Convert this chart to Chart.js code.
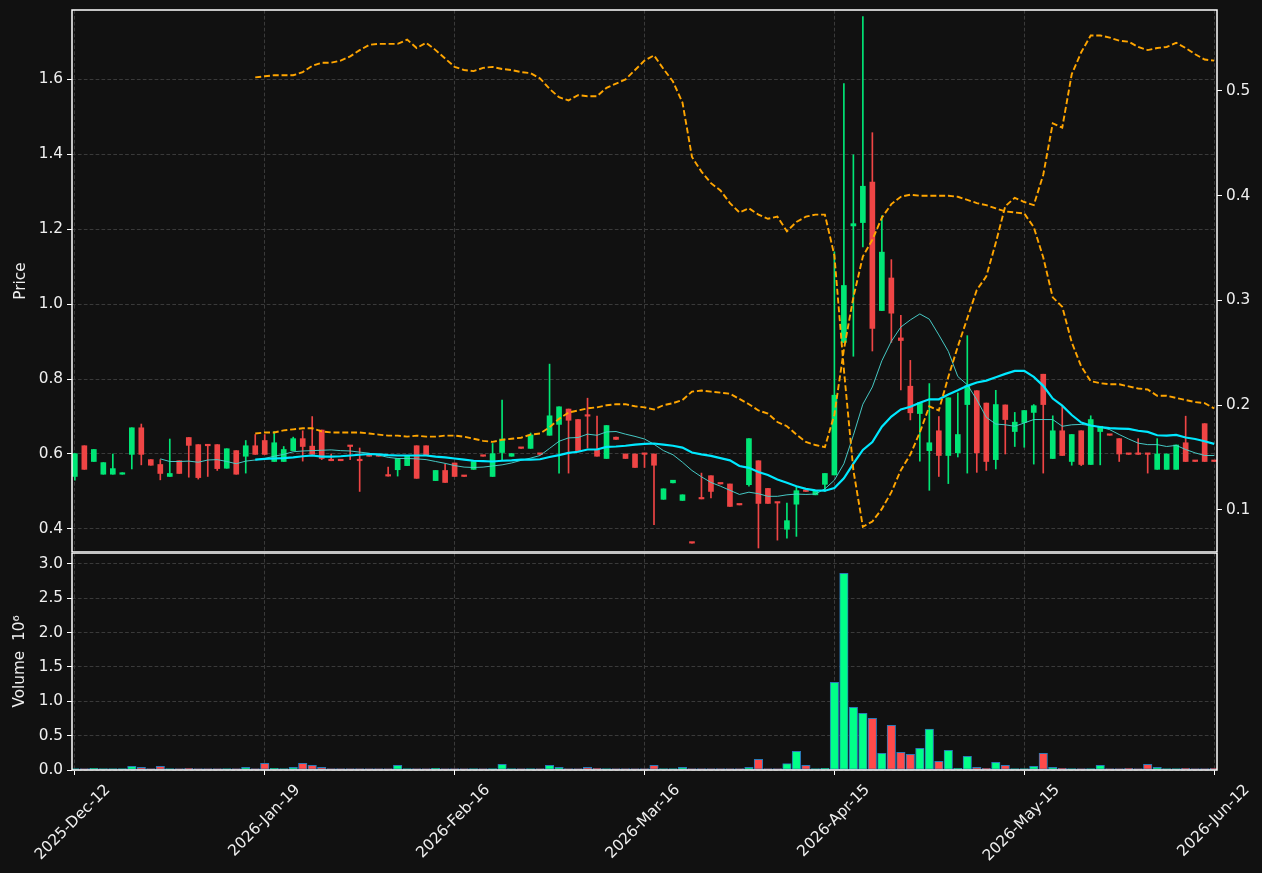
<!DOCTYPE html>
<html><head><meta charset="utf-8">
<script src="https://cdn.jsdelivr.net/npm/chart.js@4"></script>
<style>
html,body{margin:0;padding:0;background:#111111;width:1262px;height:873px;overflow:hidden}
#top{position:absolute;left:0;top:0}
#bot{position:absolute;left:0;top:553px}
</style></head><body>
<canvas id="top" width="1262" height="553"></canvas>
<canvas id="bot" width="1262" height="320"></canvas>
<script>
// ---------------- data ----------------
const tickPositions = [0, 20, 40, 60, 80, 100, 120];
const tickLabels = ['2025-Dec-12','2026-Jan-19','2026-Feb-16','2026-Mar-16','2026-Apr-15','2026-May-15','2026-Jun-12'];
const priceTicks = [0.4, 0.6, 0.8, 1.0, 1.2, 1.4, 1.6];
const rightTicks = [0.1, 0.2, 0.3, 0.4, 0.5];
const volumeTicks = [0, 0.5, 1.0, 1.5, 2.0, 2.5, 3.0];

const opens = [0.540,0.622,0.580,0.546,0.546,0.546,0.599,0.670,0.585,0.572,
 0.540,0.582,0.644,0.625,0.625,0.625,0.562,0.609,0.594,0.622,
 0.636,0.580,0.580,0.609,0.641,0.621,0.664,0.583,0.583,0.622,
 0.583,0.598,0.597,0.542,0.558,0.569,0.622,0.622,0.529,0.556,
 0.576,0.541,0.559,0.595,0.540,0.604,0.594,0.616,0.615,0.600,
 0.650,0.679,0.720,0.692,0.702,0.610,0.588,0.645,0.600,0.600,
 0.600,0.600,0.479,0.523,0.476,0.363,0.481,0.542,0.521,0.520,
 0.465,0.518,0.582,0.508,0.470,0.399,0.466,0.501,0.491,0.519,
 0.544,0.898,1.209,1.218,1.326,0.983,1.070,0.910,0.781,0.708,
 0.609,0.662,0.596,0.603,0.732,0.769,0.736,0.585,0.731,0.660,
 0.684,0.711,0.813,0.588,0.662,0.580,0.662,0.572,0.660,0.651,
 0.641,0.600,0.600,0.600,0.559,0.559,0.559,0.630,0.581,0.681,
 0.581];
const highs = [0.601,0.622,0.612,0.577,0.600,0.550,0.670,0.680,0.585,0.585,
 0.640,0.582,0.644,0.625,0.625,0.625,0.614,0.609,0.636,0.652,
 0.652,0.660,0.620,0.645,0.662,0.700,0.664,0.600,0.583,0.622,
 0.616,0.598,0.597,0.565,0.588,0.596,0.622,0.622,0.556,0.573,
 0.576,0.541,0.580,0.595,0.628,0.744,0.601,0.616,0.656,0.600,
 0.840,0.726,0.720,0.692,0.749,0.701,0.676,0.645,0.600,0.600,
 0.600,0.600,0.507,0.530,0.491,0.363,0.549,0.542,0.521,0.520,
 0.465,0.641,0.582,0.508,0.470,0.469,0.514,0.501,0.502,0.548,
 1.140,1.589,1.399,1.768,1.458,1.236,1.119,0.970,0.850,0.737,
 0.788,0.700,0.750,0.763,0.916,0.769,0.736,0.770,0.731,0.711,
 0.716,0.732,0.813,0.702,0.727,0.652,0.662,0.702,0.674,0.651,
 0.641,0.600,0.641,0.600,0.641,0.600,0.624,0.701,0.581,0.681,
 0.581];
const lows = [0.530,0.559,0.580,0.546,0.546,0.546,0.560,0.571,0.570,0.531,
 0.540,0.548,0.538,0.533,0.540,0.556,0.562,0.546,0.549,0.599,
 0.599,0.580,0.580,0.609,0.581,0.599,0.585,0.582,0.582,0.585,
 0.500,0.594,0.594,0.541,0.541,0.569,0.535,0.598,0.529,0.524,
 0.540,0.540,0.559,0.594,0.540,0.583,0.594,0.615,0.615,0.599,
 0.650,0.549,0.549,0.609,0.616,0.594,0.588,0.639,0.588,0.564,
 0.564,0.411,0.479,0.523,0.476,0.362,0.480,0.483,0.520,0.460,
 0.464,0.514,0.349,0.468,0.370,0.375,0.380,0.500,0.491,0.500,
 0.544,0.898,0.861,1.153,0.875,0.983,0.898,0.771,0.691,0.581,
 0.503,0.540,0.521,0.592,0.549,0.551,0.556,0.560,0.600,0.620,
 0.618,0.573,0.549,0.588,0.596,0.570,0.569,0.572,0.571,0.650,
 0.580,0.599,0.599,0.549,0.559,0.559,0.559,0.580,0.580,0.580,
 0.580];
const closes = [0.601,0.559,0.612,0.577,0.561,0.550,0.670,0.599,0.570,0.548,
 0.548,0.548,0.623,0.537,0.622,0.561,0.614,0.546,0.622,0.599,
 0.599,0.630,0.612,0.641,0.620,0.599,0.588,0.582,0.582,0.620,
 0.582,0.594,0.594,0.541,0.588,0.596,0.535,0.598,0.556,0.524,
 0.540,0.540,0.580,0.594,0.601,0.640,0.601,0.615,0.651,0.599,
 0.702,0.726,0.690,0.609,0.701,0.594,0.676,0.639,0.588,0.564,
 0.599,0.570,0.507,0.530,0.491,0.362,0.480,0.500,0.520,0.460,
 0.464,0.641,0.468,0.468,0.469,0.422,0.502,0.500,0.502,0.548,
 0.757,1.050,1.215,1.315,0.935,1.139,0.976,0.903,0.710,0.737,
 0.630,0.596,0.750,0.652,0.782,0.603,0.580,0.732,0.692,0.685,
 0.716,0.729,0.732,0.662,0.596,0.652,0.572,0.692,0.674,0.650,
 0.600,0.599,0.599,0.599,0.600,0.600,0.624,0.580,0.580,0.580,
 0.580];
// volume in millions
const volumes = [0.010,0.005,0.025,0.010,0.010,0.005,0.053,0.039,0.010,0.053,
 0.005,0.010,0.024,0.010,0.005,0.010,0.005,0.010,0.039,0.005,
 0.097,0.024,0.010,0.039,0.097,0.068,0.039,0.010,0.010,0.010,
 0.010,0.005,0.005,0.005,0.068,0.010,0.005,0.005,0.024,0.010,
 0.010,0.005,0.005,0.005,0.010,0.083,0.010,0.005,0.005,0.005,
 0.068,0.039,0.010,0.010,0.039,0.024,0.005,0.005,0.010,0.010,
 0.005,0.068,0.005,0.005,0.039,0.005,0.010,0.010,0.005,0.010,
 0.005,0.039,0.155,0.005,0.005,0.092,0.272,0.068,0.010,0.024,
 1.277,2.864,0.913,0.825,0.752,0.243,0.650,0.257,0.228,0.316,
 0.597,0.126,0.286,0.024,0.199,0.039,0.024,0.112,0.068,0.010,
 0.010,0.053,0.243,0.039,0.024,0.005,0.010,0.010,0.068,0.005,
 0.005,0.024,0.010,0.083,0.039,0.005,0.010,0.024,0.005,0.005,
 0.024];
// short moving average (thin), starts at index 9
const maShortStart = 9;
const maShort = [0.587,0.580,0.580,0.581,0.578,0.584,0.585,0.580,0.574,0.581,
 0.584,0.588,0.594,0.599,0.606,0.608,0.609,0.610,0.611,0.609,
 0.608,0.605,0.602,0.597,0.591,0.588,0.588,0.587,0.585,0.580,
 0.575,0.569,0.565,0.564,0.565,0.568,0.571,0.576,0.583,0.589,
 0.596,0.615,0.634,0.643,0.644,0.653,0.650,0.659,0.660,0.653,
 0.647,0.640,0.626,0.609,0.598,0.578,0.556,0.539,0.524,0.514,
 0.503,0.492,0.498,0.494,0.487,0.487,0.491,0.493,0.492,0.493,
 0.507,0.530,0.574,0.650,0.733,0.779,0.849,0.901,0.939,0.958,
 0.974,0.960,0.918,0.874,0.807,0.785,0.745,0.698,0.680,0.678,
 0.674,0.683,0.692,0.692,0.692,0.674,0.678,0.679,0.676,0.672,
 0.665,0.652,0.640,0.629,0.625,0.625,0.620,0.623,0.612,0.603,
 0.596,0.596];
// long moving average (thick), starts at index 19
const maLongStart = 19;
const maLong = [0.585,0.587,0.588,0.589,0.591,0.594,0.596,0.593,0.593,0.594,
 0.596,0.598,0.600,0.599,0.597,0.596,0.596,0.596,0.596,0.593,
 0.591,0.588,0.585,0.582,0.581,0.580,0.582,0.583,0.585,0.585,
 0.586,0.592,0.597,0.603,0.606,0.612,0.612,0.619,0.620,0.622,
 0.625,0.627,0.628,0.625,0.622,0.617,0.604,0.599,0.595,0.589,
 0.583,0.568,0.563,0.552,0.544,0.532,0.523,0.514,0.507,0.503,
 0.502,0.509,0.535,0.574,0.611,0.632,0.673,0.700,0.719,0.726,
 0.737,0.746,0.746,0.759,0.770,0.782,0.791,0.796,0.805,0.814,
 0.822,0.822,0.806,0.782,0.748,0.729,0.704,0.684,0.676,0.672,
 0.669,0.668,0.667,0.662,0.659,0.650,0.649,0.651,0.644,0.640,
 0.634,0.627];
// dashed lines on the right axis, start at index 19
const bandStart = 19;
const bandA = [0.513,0.514,0.515,0.515,0.515,0.518,0.524,0.527,0.527,0.529,
 0.533,0.539,0.544,0.545,0.545,0.545,0.549,0.541,0.546,0.539,
 0.531,0.523,0.520,0.519,0.522,0.523,0.521,0.520,0.518,0.517,
 0.512,0.502,0.494,0.491,0.496,0.495,0.495,0.503,0.507,0.511,
 0.520,0.529,0.534,0.521,0.509,0.489,0.437,0.423,0.412,0.405,
 0.393,0.384,0.388,0.382,0.378,0.380,0.366,0.375,0.380,0.382,
 0.382,0.343,0.234,0.138,0.084,0.089,0.101,0.117,0.138,0.153,
 0.174,0.199,0.195,0.227,0.256,0.283,0.310,0.323,0.355,0.390,
 0.398,0.394,0.391,0.420,0.469,0.465,0.516,0.537,0.553,0.553,
 0.551,0.548,0.547,0.542,0.539,0.541,0.542,0.546,0.541,0.535,
 0.530,0.529];
const bandB = [0.173,0.174,0.174,0.176,0.177,0.178,0.178,0.175,0.174,0.174,
 0.174,0.174,0.173,0.172,0.171,0.171,0.170,0.171,0.170,0.170,
 0.171,0.171,0.170,0.168,0.166,0.165,0.167,0.168,0.169,0.172,
 0.173,0.179,0.187,0.193,0.195,0.197,0.198,0.200,0.201,0.201,
 0.199,0.198,0.196,0.200,0.202,0.205,0.213,0.214,0.213,0.212,
 0.211,0.206,0.201,0.195,0.192,0.184,0.180,0.172,0.165,0.162,
 0.160,0.191,0.253,0.303,0.342,0.358,0.379,0.392,0.399,0.401,
 0.400,0.400,0.400,0.400,0.399,0.396,0.393,0.391,0.388,0.385,
 0.384,0.383,0.370,0.341,0.303,0.294,0.260,0.237,0.223,0.221,
 0.220,0.220,0.218,0.216,0.215,0.209,0.209,0.207,0.205,0.203,
 0.202,0.197];

// ---------------- styling ----------------
const BG = '#111111';
const TXT = '#f0f0f0';
const GRID = '#3a3a3a';
const GDASH = [3.7, 2.2];
const UP = '#00e676', DOWN = '#ef4545';
const VUP = '#00ff88', VDOWN = '#ff4a4a', VEDGE = '#2a7ab8';
const FS = 15.3;
Chart.defaults.font.family = 'DejaVu Sans';
Chart.defaults.font.size = FS;
Chart.defaults.color = TXT;

const bgPlugin = {id:'bgp', beforeDraw(c){const x=c.ctx;x.save();x.fillStyle=BG;x.fillRect(0,0,c.width,c.height);x.restore();}};
const framePlugin = {id:'frame', afterDraw(c){const a=c.chartArea,x=c.ctx;x.save();x.strokeStyle='#ffffff';x.lineWidth=1.5;x.strokeRect(a.left,a.top,a.right-a.left,a.bottom-a.top);x.restore();}};

const idx = closes.map((_, i) => i);
const isUp = idx.map(i => closes[i] >= opens[i]);
const xMin = -0.3, xMax = 120.3;
const setTicks = arr => (s => { s.ticks = arr.map(v => ({value: v})); });
const series = (arr, start) => arr.map((v, k) => ({x: k + start, y: v}));
const fixW = w => (s => { s.width = w; s.paddingTop = 0; s.paddingBottom = 0; });
const fixH = h => (s => { s.height = h; s.paddingLeft = 0; s.paddingRight = 0; });

// ---------------- price panel ----------------
new Chart(document.getElementById('top'), {
  type: 'bar',
  data: { datasets: [
    {type:'line', data: series(bandA, bandStart), yAxisID:'y2', borderColor:'#ffa500', borderWidth:1.9, borderDash:[6,2.8], pointRadius:0, tension:0, order:0},
    {type:'line', data: series(bandB, bandStart), yAxisID:'y2', borderColor:'#ffa500', borderWidth:1.9, borderDash:[6,2.8], pointRadius:0, tension:0, order:0},
    {type:'line', data: series(maLong, maLongStart), yAxisID:'y', borderColor:'#00e8ff', borderWidth:2.2, pointRadius:0, tension:0, order:1},
    {type:'line', data: series(maShort, maShortStart), yAxisID:'y', borderColor:'rgba(72,209,204,0.95)', borderWidth:1, pointRadius:0, tension:0, order:2},
    {type:'bar', data: idx.map(i => ({x:i, y:[opens[i], closes[i]]})), yAxisID:'y', backgroundColor: isUp.map(u => u ? UP : DOWN), borderWidth:0, barThickness:5, minBarLength:1.5, grouped:false, order:3},
    {type:'bar', data: idx.map(i => ({x:i, y:[lows[i], highs[i]]})), yAxisID:'y', backgroundColor: isUp.map(u => u ? UP : DOWN), borderWidth:0, barThickness:1, grouped:false, order:4}
  ]},
  options: {
    responsive:false, animation:false, devicePixelRatio:1,
    layout:{padding:{top:10, bottom:0, left:0, right:0}},
    plugins:{legend:{display:false}, tooltip:{enabled:false}},
    scales:{
      x:{type:'linear', min:xMin, max:xMax, offset:false, afterBuildTicks:setTicks(tickPositions),
         ticks:{display:false}, grid:{color:GRID, drawTicks:false, offset:false}, border:{display:false, dash:GDASH},
         afterFit:fixH(1)},
      y:{type:'linear', position:'left', min:0.3383, max:1.7856, beginAtZero:false, afterBuildTicks:setTicks(priceTicks),
         ticks:{callback:v => v.toFixed(1), color:TXT, padding:4},
         grid:{color:GRID, tickColor:'#ffffff', tickLength:5, tickBorderDash:[]}, border:{display:false, dash:GDASH},
         title:{display:true, text:'Price', color:TXT, padding:{top:12, bottom:0}},
         afterFit:fixW(72)},
      y2:{type:'linear', position:'right', min:0.0599, max:0.5773, beginAtZero:false, afterBuildTicks:setTicks(rightTicks),
         ticks:{callback:v => v.toFixed(1), color:TXT, padding:4},
         grid:{drawOnChartArea:false, tickColor:'#ffffff', tickLength:5}, border:{display:false},
         afterFit:fixW(45)}
    }
  },
  plugins:[bgPlugin, framePlugin]
});

// ---------------- volume panel ----------------
new Chart(document.getElementById('bot'), {
  type: 'bar',
  data: { datasets: [
    {data: idx.map(i => ({x:i, y:volumes[i]})), backgroundColor: isUp.map(u => u ? VUP : VDOWN), borderColor: VEDGE, borderWidth:1, borderSkipped:false, barThickness:8.5, minBarLength:1.5}
  ]},
  options: {
    responsive:false, animation:false, devicePixelRatio:1,
    layout:{padding:{top:0, bottom:0, left:0, right:45}},
    plugins:{legend:{display:false}, tooltip:{enabled:false}},
    scales:{
      x:{type:'linear', min:xMin, max:xMax, offset:false, afterBuildTicks:setTicks(tickPositions),
         ticks:{autoSkip:false, maxRotation:45, minRotation:45, color:TXT, padding:6, labelOffset:33,
                callback:v => { const k = tickPositions.indexOf(v); return k >= 0 ? tickLabels[k] : ''; }},
         grid:{color:GRID, offset:false, tickColor:'#ffffff', tickLength:5, tickBorderDash:[]}, border:{display:false, dash:GDASH},
         afterFit:fixH(103)},
      y:{type:'linear', position:'left', min:0, max:3.16, beginAtZero:false, afterBuildTicks:setTicks(volumeTicks),
         ticks:{callback:v => v.toFixed(1), color:TXT, padding:4},
         grid:{color:GRID, tickColor:'#ffffff', tickLength:5, tickBorderDash:[]}, border:{display:false, dash:GDASH},
         title:{display:true, text:'Volume  10⁶', color:TXT, padding:{top:11, bottom:0}},
         afterFit:fixW(72)}
    }
  },
  plugins:[bgPlugin, framePlugin]
});
</script>
</body></html>
